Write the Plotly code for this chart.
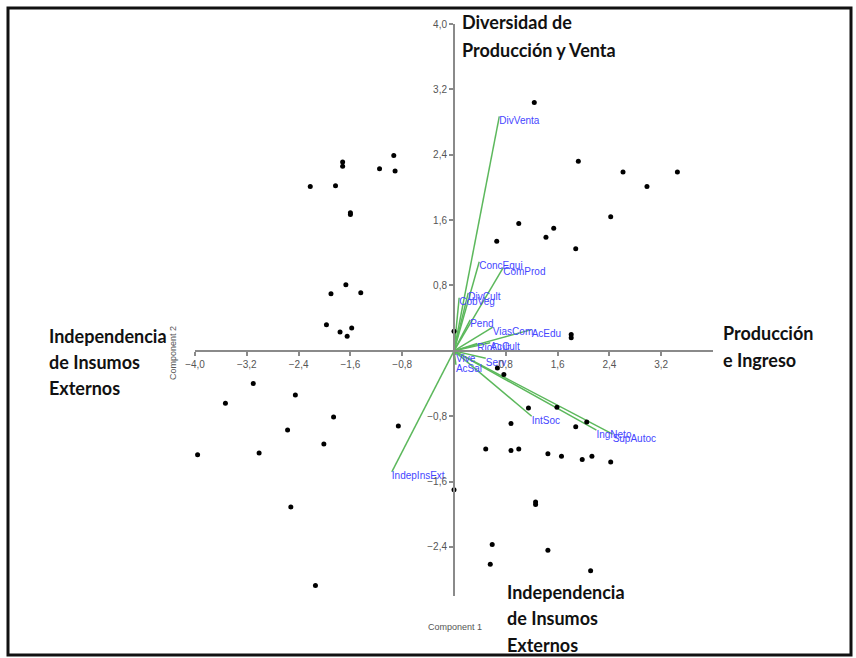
import plotly.graph_objects as go

# ---------------- data ----------------
score_x = [-0.93, -1.72, -1.72, -1.15, -0.91, -2.22, -1.83, -1.60, -1.60, -1.67, -1.90, -1.44,
           -1.97, -1.76, -1.58, -1.65,
           0.00, 0.00,
           -3.10, -3.53, -2.45, -1.86, -2.57, -0.86, -2.01, -3.96, -3.01, -2.52, -2.14,
           1.26, 1.26, 0.59, 1.45, 0.56, 2.11, 1.15, 1.59, 0.88, 1.88, 0.49, 0.88, 1.00,
           1.45, 1.66, 0.67, 0.77, 2.05, 1.98, 2.13, 2.42,
           1.00, 0.66, 1.42, 1.54, 1.88, 1.81, 1.81, 1.92, 2.61, 3.45, 2.98, 2.42, 1.24]
score_y = [2.39, 2.31, 2.26, 2.23, 2.20, 2.01, 2.02, 1.69, 1.67, 0.81, 0.70, 0.71,
           0.32, 0.23, 0.28, 0.18,
           0.24, -1.70,
           -0.40, -0.64, -0.54, -0.81, -0.97, -0.92, -1.14, -1.27, -1.25, -1.91, -2.87,
           -1.85, -1.88, -2.37, -2.44, -2.61, -2.69, -0.70, -0.69, -0.89, -0.93, -1.20, -1.22, -1.20,
           -1.26, -1.29, -0.21, -0.29, -0.87, -1.33, -1.29, -1.36,
           1.56, 1.34, 1.39, 1.50, 1.25, 0.20, 0.16, 2.32, 2.19, 2.19, 2.01, 1.64, 3.04]

load_names = ["DivVenta", "ConcEqui", "ComProd", "DivCult", "CobVeg", "Pend", "ViasCom",
              "AcEdu", "RioCult", "AcCult", "Serv", "Vive", "AcSal", "IntSoc", "IngNeto",
              "SupAutoc", "IndepInsExt"]
load_x = [0.70, 0.39, 0.76, 0.22, 0.08, 0.25, 0.60, 1.20, 0.36, 0.56, 0.49, 0.03, 0.03,
          1.20, 2.20, 2.45, -0.96]
load_y = [2.87, 1.09, 1.02, 0.71, 0.65, 0.38, 0.29, 0.26, 0.09, 0.10, -0.09, -0.05, -0.17,
          -0.80, -0.97, -1.02, -1.48]

x_ticks = [-4.0, -3.2, -2.4, -1.6, -0.8, 0.8, 1.6, 2.4, 3.2]
y_ticks = [4.0, 3.2, 2.4, 1.6, 0.8, -0.8, -1.6, -2.4]
x_range = [-4.0, 4.0]
y_range = [-3.0, 4.0]

# ---------------- layout geometry ----------------
W, H = 856, 658
ML, MR, MT, MB = 195, 143, 24, 62
PW, PH = W - ML - MR, H - MT - MB


def px(x):
    return (x - ML) / PW


def py(y):
    return 1 - (y - MT) / PH


fig = go.Figure()

# loading vectors
lx, ly = [], []
for a, b in zip(load_x, load_y):
    lx += [0, a, None]
    ly += [0, b, None]
fig.add_trace(go.Scatter(x=lx, y=ly, mode="lines",
                         line=dict(color="#5cb85c", width=1.5),
                         hoverinfo="skip", showlegend=False))
fig.add_trace(go.Scatter(x=load_x, y=load_y, mode="text", text=load_names,
                         textposition="bottom right",
                         textfont=dict(family="Arial", size=10, color="#4646ff"),
                         cliponaxis=False, showlegend=False))

# scores
fig.add_trace(go.Scatter(x=score_x, y=score_y, mode="markers",
                         marker=dict(color="black", size=5),
                         cliponaxis=False, showlegend=False))

x_pos = (0 - y_range[0]) / (y_range[1] - y_range[0])
y_pos = (0 - x_range[0]) / (x_range[1] - x_range[0])

axis_common = dict(showgrid=False, zeroline=False, showline=True,
                   linecolor="#8a8a8a", linewidth=2, ticks="outside",
                   ticklen=4, tickwidth=1.5, tickcolor="#8a8a8a",
                   tickformat=".1f",
                   tickfont=dict(family="Arial", size=10, color="#555555"))

fig.update_layout(
    width=W, height=H,
    margin=dict(l=ML, r=MR, t=MT, b=MB),
    paper_bgcolor="white", plot_bgcolor="white",
    separators=",.",
    xaxis=dict(range=x_range, tickvals=x_ticks, anchor="free", position=x_pos,
               **axis_common),
    yaxis=dict(range=y_range, tickvals=y_ticks, anchor="free", position=y_pos,
               **axis_common),
)

bold = dict(family="Lato", size=18, color="#111111")
labels = [
    ("<b>Diversidad de</b>", 460, 22),
    ("<b>Producción y Venta</b>", 460, 50),
    ("<b>Independencia</b>", 47, 336),
    ("<b>de Insumos</b>", 47, 362),
    ("<b>Externos</b>", 47, 388),
    ("<b>Producción</b>", 721, 333),
    ("<b>e Ingreso</b>", 721, 360),
    ("<b>Independencia</b>", 505, 592),
    ("<b>de Insumos</b>", 505, 618),
    ("<b>Externos</b>", 505, 645),
]
for t, x0, y0 in labels:
    fig.add_annotation(text=t, x=px(x0), y=py(y0), xref="paper", yref="paper",
                       xanchor="left", yanchor="middle", showarrow=False, font=bold)

small = dict(family="Arial", size=9, color="#555555")
fig.add_annotation(text="Component 1", x=px(455), y=py(627), xref="paper", yref="paper",
                   xanchor="center", yanchor="middle", showarrow=False, font=small)
fig.add_annotation(text="Component 2", x=px(173), y=py(353), xref="paper", yref="paper",
                   xanchor="center", yanchor="middle", showarrow=False, font=small,
                   textangle=-90)

# outer frame
fig.add_shape(type="rect", xref="paper", yref="paper",
              x0=px(8), x1=px(851), y0=py(655), y1=py(8),
              line=dict(color="#111111", width=3))

fig.write_html("out.html")
